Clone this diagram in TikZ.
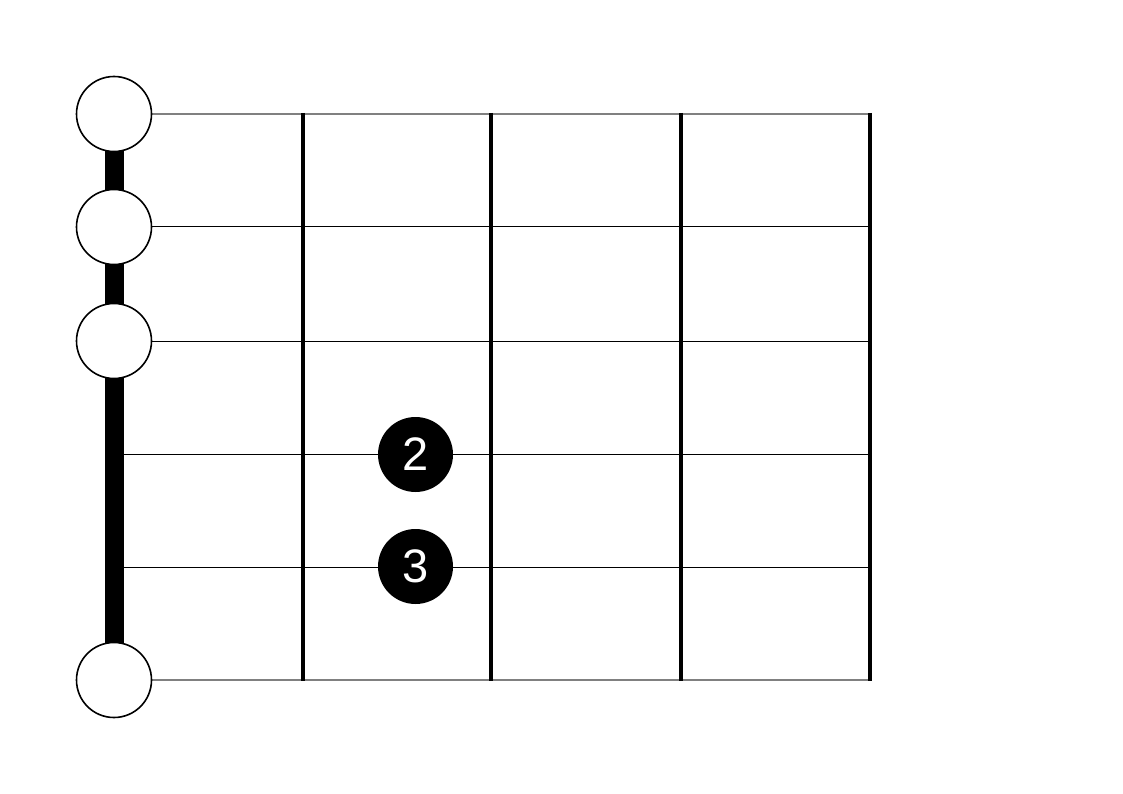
\documentclass[tikz,border=0pt]{standalone}
\usepackage{fontspec}
\setmainfont{Liberation Sans}
\begin{document}
\begin{tikzpicture}[x=1pt,y=-1pt,
  edgestring/.style={draw=gray, line width=2pt},
  midstring/.style={draw=black, line width=1pt},
  fretline/.style={draw=black, line width=3.2pt},
  nutbar/.style={draw=black, line width=19pt},
  openmark/.style={circle, draw=black, fill=white, line width=1.6pt, minimum size=75pt, inner sep=0pt},
  finger/.style={circle, fill=black, text=white, minimum size=75pt, inner sep=0pt, font=\fontsize{47}{47}\selectfont}]
\useasboundingbox (0,0) rectangle (1123,794);
% string coordinates
\foreach \i/\y in {1/114,2/227,3/341,4/454,5/567,6/680}{
  \coordinate (sL\i) at (114,\y);
  \coordinate (sR\i) at (870,\y);
}
% strings
\draw[edgestring] (sL1) -- (sR1);
\draw[midstring] (sL2) -- (sR2);
\draw[midstring] (sL3) -- (sR3);
\draw[midstring] (sL4) -- (sR4);
\draw[midstring] (sL5) -- (sR5);
\draw[edgestring] (sL6) -- (sR6);
% frets
\foreach \j/\x in {1/303,2/491,3/681,4/870}{
  \coordinate (fT\j) at (\x,113);
  \coordinate (fB\j) at (\x,681);
  \draw[fretline] (fT\j) -- (fB\j);
}
% nut bar
\draw[nutbar] (sL1) -- (sL6);
% open string markers
\node[openmark] (o1) at (sL1) {};
\node[openmark] (o2) at (sL2) {};
\node[openmark] (o3) at (sL3) {};
\node[openmark] (o6) at (sL6) {};
% finger dots
\node[finger] (d2) at (415.5,454.5) {2};
\node[finger] (d3) at (415.5,566.5) {3};
\end{tikzpicture}
\end{document}
